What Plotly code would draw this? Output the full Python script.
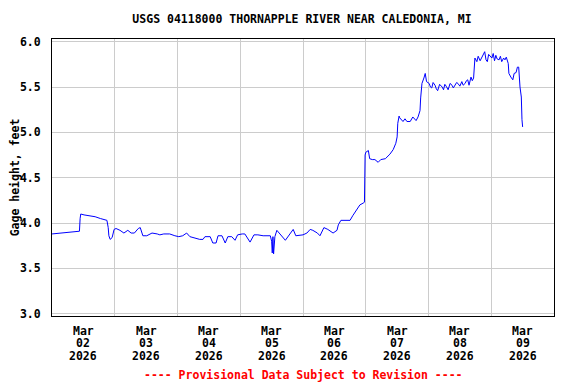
import plotly.graph_objects as go

times = [
    "2026-03-02 00:00", "2026-03-02 03:00", "2026-03-02 07:00", "2026-03-02 10:30", "2026-03-02 10:45",
    "2026-03-02 11:00", "2026-03-02 12:15", "2026-03-02 14:30", "2026-03-02 16:30", "2026-03-02 18:30",
    "2026-03-02 20:00", "2026-03-02 21:00", "2026-03-02 21:30", "2026-03-02 21:45", "2026-03-02 22:15",
    "2026-03-02 23:00", "2026-03-02 23:45", "2026-03-03 00:30", "2026-03-03 02:00", "2026-03-03 03:30",
    "2026-03-03 05:00", "2026-03-03 06:15", "2026-03-03 07:30", "2026-03-03 09:00", "2026-03-03 09:45",
    "2026-03-03 10:45", "2026-03-03 12:15", "2026-03-03 14:15", "2026-03-03 16:15", "2026-03-03 17:15",
    "2026-03-03 18:45", "2026-03-03 21:00", "2026-03-03 23:00", "2026-03-04 00:30", "2026-03-04 02:00",
    "2026-03-04 03:30", "2026-03-04 04:45", "2026-03-04 06:45", "2026-03-04 08:30", "2026-03-04 09:45",
    "2026-03-04 10:30", "2026-03-04 12:30", "2026-03-04 13:30", "2026-03-04 14:45", "2026-03-04 15:30",
    "2026-03-04 17:00", "2026-03-04 18:15", "2026-03-04 19:15", "2026-03-04 20:45", "2026-03-04 22:00",
    "2026-03-04 23:00", "2026-03-05 00:45", "2026-03-05 01:45", "2026-03-05 03:45", "2026-03-05 05:15",
    "2026-03-05 06:45", "2026-03-05 08:45", "2026-03-05 11:30", "2026-03-05 12:00", "2026-03-05 12:15",
    "2026-03-05 12:30", "2026-03-05 12:45", "2026-03-05 13:15", "2026-03-05 14:00", "2026-03-05 15:30",
    "2026-03-05 17:15", "2026-03-05 19:00", "2026-03-05 20:15", "2026-03-05 21:15", "2026-03-05 23:00",
    "2026-03-06 00:00", "2026-03-06 01:30", "2026-03-06 02:45", "2026-03-06 03:45", "2026-03-06 05:30",
    "2026-03-06 06:30", "2026-03-06 08:00", "2026-03-06 09:30", "2026-03-06 11:30", "2026-03-06 13:00",
    "2026-03-06 13:30", "2026-03-06 14:30", "2026-03-06 16:00", "2026-03-06 18:00", "2026-03-06 19:00",
    "2026-03-06 20:45", "2026-03-06 21:45", "2026-03-06 23:00", "2026-03-06 23:30", "2026-03-06 23:45",
    "2026-03-07 00:00", "2026-03-07 01:00", "2026-03-07 01:30", "2026-03-07 02:30", "2026-03-07 03:30",
    "2026-03-07 04:45", "2026-03-07 05:45", "2026-03-07 07:30", "2026-03-07 09:15", "2026-03-07 10:30",
    "2026-03-07 11:30", "2026-03-07 12:00", "2026-03-07 12:15", "2026-03-07 12:45", "2026-03-07 13:00",
    "2026-03-07 14:15", "2026-03-07 15:00", "2026-03-07 15:45", "2026-03-07 17:00", "2026-03-07 18:00",
    "2026-03-07 19:15", "2026-03-07 20:00", "2026-03-07 20:45", "2026-03-07 21:00", "2026-03-07 21:30",
    "2026-03-07 22:15", "2026-03-07 22:45", "2026-03-07 23:15", "2026-03-08 00:15", "2026-03-08 00:45",
    "2026-03-08 01:15", "2026-03-08 01:45", "2026-03-08 02:30", "2026-03-08 03:00", "2026-03-08 03:30",
    "2026-03-08 04:15", "2026-03-08 05:15", "2026-03-08 05:45", "2026-03-08 06:15", "2026-03-08 06:45",
    "2026-03-08 07:30", "2026-03-08 08:15", "2026-03-08 09:00", "2026-03-08 09:30", "2026-03-08 10:15",
    "2026-03-08 10:45", "2026-03-08 11:15", "2026-03-08 12:00", "2026-03-08 12:45", "2026-03-08 13:15",
    "2026-03-08 14:00", "2026-03-08 14:30", "2026-03-08 15:00", "2026-03-08 15:30", "2026-03-08 16:15",
    "2026-03-08 16:45", "2026-03-08 17:15", "2026-03-08 17:45", "2026-03-08 18:30", "2026-03-08 19:00",
    "2026-03-08 19:45", "2026-03-08 20:15", "2026-03-08 21:00", "2026-03-08 21:30", "2026-03-08 22:00",
    "2026-03-08 22:30", "2026-03-08 23:00", "2026-03-08 23:30", "2026-03-09 00:15", "2026-03-09 00:45",
    "2026-03-09 01:15", "2026-03-09 01:45", "2026-03-09 02:15", "2026-03-09 03:00", "2026-03-09 03:30",
    "2026-03-09 04:00", "2026-03-09 04:45", "2026-03-09 05:15", "2026-03-09 05:45", "2026-03-09 06:30",
    "2026-03-09 06:45", "2026-03-09 07:30", "2026-03-09 08:15", "2026-03-09 08:45", "2026-03-09 09:30",
    "2026-03-09 10:00", "2026-03-09 10:30", "2026-03-09 11:00", "2026-03-09 11:30", "2026-03-09 11:45",
    "2026-03-09 12:00",
]

gage_ft = [
    3.88, 3.89, 3.90, 3.91, 4.05,
    4.10, 4.09, 4.08, 4.07, 4.05,
    4.04, 4.03, 3.95, 3.86, 3.82,
    3.84, 3.93, 3.94, 3.92, 3.89,
    3.92, 3.89, 3.89, 3.94, 3.95,
    3.86, 3.86, 3.89, 3.88, 3.87,
    3.88, 3.88, 3.86, 3.85, 3.86,
    3.89, 3.85, 3.83, 3.82, 3.82,
    3.85, 3.85, 3.78, 3.78, 3.86,
    3.86, 3.78, 3.85, 3.85, 3.81,
    3.87, 3.88, 3.88, 3.79, 3.87,
    3.87, 3.86, 3.86, 3.80, 3.67,
    3.85, 3.66, 3.85, 3.92, 3.87,
    3.81, 3.88, 3.93, 3.86, 3.87,
    3.87, 3.89, 3.93, 3.92, 3.89,
    3.86, 3.95, 3.93, 3.89, 3.92,
    3.98, 4.03, 4.03, 4.03, 4.08,
    4.16, 4.20, 4.22, 4.23, 4.75,
    4.78, 4.80, 4.71, 4.70, 4.70,
    4.67, 4.70, 4.71, 4.76, 4.81,
    4.88, 4.95, 5.10, 5.18, 5.16,
    5.12, 5.15, 5.12, 5.12, 5.17,
    5.13, 5.17, 5.24, 5.38, 5.54,
    5.60, 5.65, 5.56, 5.54, 5.50,
    5.49, 5.55, 5.52, 5.48, 5.46,
    5.53, 5.50, 5.47, 5.53, 5.51,
    5.47, 5.54, 5.52, 5.49, 5.52,
    5.55, 5.54, 5.51, 5.56, 5.52,
    5.54, 5.57, 5.58, 5.52, 5.61,
    5.57, 5.60, 5.82, 5.78, 5.84,
    5.79, 5.82, 5.85, 5.89, 5.80,
    5.78, 5.86, 5.84, 5.82, 5.87,
    5.79, 5.85, 5.81, 5.80, 5.84,
    5.78, 5.82, 5.80, 5.83, 5.76,
    5.65, 5.61, 5.58, 5.65, 5.66,
    5.72, 5.72, 5.50, 5.39, 5.14,
    5.06,
]

tick_vals = ["2026-03-02 12:00", "2026-03-03 12:00", "2026-03-04 12:00", "2026-03-05 12:00",
             "2026-03-06 12:00", "2026-03-07 12:00", "2026-03-08 12:00", "2026-03-09 12:00"]
tick_month = ["Mar"] * 8
tick_day = ["02", "03", "04", "05", "06", "07", "08", "09"]
tick_year = ["2026"] * 8
grid_vals = ["2026-03-03", "2026-03-04", "2026-03-05", "2026-03-06",
             "2026-03-07", "2026-03-08", "2026-03-09"]
y_ticks = [3.0, 3.5, 4.0, 4.5, 5.0, 5.5, 6.0]

FONT = "DejaVu Sans Mono"
FS = 11.5
PLOT_H = 277
OFF = 8  # page body margin of the html page

annotations = []
for xv, m, d, yr in zip(tick_vals, tick_month, tick_day, tick_year):
    for txt, ypx in ((m, 14.5), (d, 27), (yr, 39.5)):
        annotations.append(dict(text="<b>%s</b>" % txt, xref="x", yref="paper", x=xv,
                                y=-ypx / PLOT_H, xanchor="center", yanchor="middle",
                                height=12, borderpad=0,
                                showarrow=False, font=dict(family=FONT, size=FS, color="black")))
annotations.append(dict(text="<b>---- Provisional Data Subject to Revision ----</b>",
                        xref="paper", yref="paper", x=0.5, y=-59 / PLOT_H, xanchor="center",
                        yanchor="middle", showarrow=False,
                        font=dict(family=FONT, size=FS, color="#ff0000")))

fig = go.Figure()
fig.add_trace(go.Scatter(x=times, y=gage_ft, mode="lines",
                         line=dict(color="#0000ff", width=1), showlegend=False))

fig.update_layout(
    width=576, height=384,
    margin=dict(l=52 - OFF, r=30, t=39 - OFF, b=76),
    paper_bgcolor="white", plot_bgcolor="white",
    font=dict(family=FONT, size=FS, color="black"),
    title=dict(text="<b>USGS 04118000 THORNAPPLE RIVER NEAR CALEDONIA, MI</b>",
               x=(302 - OFF) / 576, xanchor="center", y=1 - (19 - OFF) / 384, yanchor="middle",
               font=dict(family=FONT, size=FS, color="black")),
    annotations=annotations,
)

fig.update_xaxes(
    range=["2026-03-02 00:00", "2026-03-10 00:00"],
    tickmode="array", tickvals=tick_vals, showticklabels=False,
    showgrid=False, ticks="",
    minor=dict(tickmode="array", tickvals=grid_vals, showgrid=True, gridcolor="#cccccc", gridwidth=1, ticks=""),
    showline=True, linecolor="black", linewidth=1, mirror=True,
    zeroline=False, automargin=False,
)
fig.update_yaxes(
    range=[2.975, 6.03],
    tickmode="array", tickvals=y_ticks, ticktext=["<b>%.1f</b>" % v for v in y_ticks],
    showgrid=True, gridcolor="#cccccc", gridwidth=1, ticks="", ticklabelstandoff=8,
    showline=True, linecolor="black", linewidth=1, mirror=True,
    tickfont=dict(family=FONT, size=FS, color="black"),
    title=dict(text="<b>Gage height, feet</b>", font=dict(family=FONT, size=FS, color="black"), standoff=6),
    zeroline=False, automargin=False,
)

fig.write_html("out.html")
